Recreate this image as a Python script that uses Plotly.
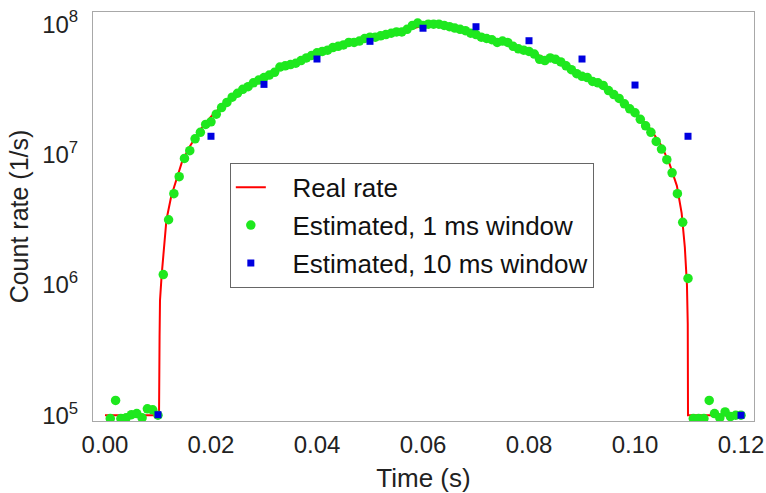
import plotly.graph_objects as go

# Real rate (instantaneous)
real_t = [0.000, 0.0102, 0.0103, 0.01038, 0.0107, 0.0116, 0.0125, 0.0135, 0.0145, 0.016,
          0.018, 0.020, 0.0225, 0.025, 0.0275, 0.030, 0.035, 0.040, 0.045, 0.050,
          0.055, 0.060, 0.065, 0.070, 0.075, 0.080, 0.085, 0.090, 0.095, 0.100,
          0.103, 0.105, 0.1065, 0.1079, 0.1088, 0.1094, 0.1098, 0.10995, 0.1100, 0.1200]
real_rate = [1.0e5, 1.0e5, 3.98e5, 7.59e5, 1.20e6, 3.16e6, 4.79e6, 6.61e6, 8.71e6, 1.15e7,
             1.55e7, 1.95e7, 2.45e7, 2.95e7, 3.47e7, 3.98e7, 5.01e7, 6.03e7, 6.92e7, 7.76e7,
             8.51e7, 9.77e7, 9.33e7, 8.51e7, 7.41e7, 6.17e7, 5.13e7, 4.07e7, 3.09e7, 2.14e7,
             1.55e7, 1.17e7, 8.51e6, 5.75e6, 3.55e6, 1.95e6, 1.00e6, 5.01e5, 1.0e5, 1.0e5]

# Estimated, 1 ms window (t = 0.001 ... 0.120)
est1_t = [round(0.001 * (i + 1), 3) for i in range(120)]
est1_rate = [
    9.44e4, 1.30e5, 9.44e4, 9.55e4, 1.01e5, 1.03e5, 9.55e4, 1.12e5, 1.10e5, 1.00e5,
    1.20e6, 3.16e6, 5.01e6, 6.76e6, 9.33e6, 1.07e7, 1.32e7, 1.48e7, 1.70e7, 1.78e7,
    2.04e7, 2.29e7, 2.51e7, 2.75e7, 2.95e7, 3.16e7, 3.31e7, 3.55e7, 3.72e7, 3.89e7,
    4.07e7, 4.27e7, 4.68e7, 4.79e7, 4.90e7, 5.01e7, 5.25e7, 5.50e7, 5.75e7, 6.03e7,
    6.17e7, 6.31e7, 6.61e7, 6.76e7, 6.92e7, 7.24e7, 7.24e7, 7.41e7, 7.76e7, 7.94e7,
    7.94e7, 8.13e7, 8.32e7, 8.51e7, 8.71e7, 8.71e7, 9.12e7, 9.77e7, 1.02e8, 9.77e7,
    1.00e8, 1.00e8, 1.00e8, 9.77e7, 9.55e7, 9.33e7, 9.12e7, 8.91e7, 8.51e7, 8.32e7,
    7.94e7, 7.76e7, 7.59e7, 7.24e7, 7.41e7, 7.24e7, 6.76e7, 6.46e7, 6.31e7, 6.17e7,
    5.89e7, 5.37e7, 5.25e7, 5.50e7, 5.37e7, 5.13e7, 4.79e7, 4.47e7, 4.17e7, 3.98e7,
    3.89e7, 3.63e7, 3.55e7, 3.39e7, 3.09e7, 2.88e7, 2.69e7, 2.45e7, 2.24e7, 2.09e7,
    1.86e7, 1.66e7, 1.48e7, 1.26e7, 1.10e7, 9.12e6, 7.24e6, 5.01e6, 3.02e6, 1.12e6,
    9.44e4, 9.44e4, 9.44e4, 1.30e5, 1.03e5, 9.55e4, 1.06e5, 9.77e4, 1.00e5, 1.00e5,
]

# Estimated, 10 ms window
est10_t = [0.01, 0.02, 0.03, 0.04, 0.05, 0.06, 0.07, 0.08, 0.09, 0.10, 0.11, 0.12]
est10_rate = [1.01e5, 1.38e7, 3.45e7, 5.40e7, 7.38e7, 9.30e7, 9.55e7, 7.46e7, 5.40e7, 3.41e7, 1.38e7, 1.0e5]

x_tickvals = [0, 0.02, 0.04, 0.06, 0.08, 0.10, 0.12]
x_ticktext = ["0.00", "0.02", "0.04", "0.06", "0.08", "0.10", "0.12"]
y_tickvals = [1e5, 1e6, 1e7, 1e8]
y_ticktext = ["10<sup>5</sup>", "10<sup>6</sup>", "10<sup>7</sup>", "10<sup>8</sup>"]

FONT = "Arial, Liberation Sans, Helvetica, sans-serif"
PAD = "\u00a0\u00a0\u00a0"

fig = go.Figure()
fig.add_trace(go.Scatter(x=real_t, y=real_rate, mode="lines", name=PAD + "Real rate",
                         line=dict(color="#ff0000", width=2), legendgroup="a"))
fig.add_trace(go.Scatter(x=est1_t, y=est1_rate, mode="markers", name=PAD + "Estimated, 1 ms window",
                         marker=dict(color="#1ee81e", size=9.5, symbol="circle"), legendgroup="b"))
fig.add_trace(go.Scatter(x=est10_t, y=est10_rate, mode="markers", name=PAD + "Estimated, 10 ms window",
                         marker=dict(color="#0000e0", size=7, symbol="square"), legendgroup="c"))

fig.update_layout(
    width=766, height=493,
    margin=dict(l=93, r=12, t=12, b=72),
    paper_bgcolor="white", plot_bgcolor="white",
    font=dict(family=FONT, color="#222222", size=24),
    legend=dict(x=0.207, y=0.631, xanchor="left", yanchor="top",
                bordercolor="#666666", borderwidth=1, bgcolor="white",
                font=dict(size=26, family=FONT, color="#111111"),
                itemwidth=30, tracegroupgap=1, traceorder="grouped"),
    xaxis=dict(range=[-0.00226, 0.12245], tickvals=x_tickvals, ticktext=x_ticktext,
               showline=True, mirror=True, linecolor="#a8a8a8", linewidth=1,
               showgrid=False, zeroline=False, ticks="", ticklabelstandoff=2,
               automargin=False,
               title=dict(text="Time (s)", font=dict(size=26, family=FONT), standoff=14),
               tickfont=dict(size=24, family=FONT)),
    yaxis=dict(type="log", range=[4.956, 8.093], tickvals=y_tickvals, ticktext=y_ticktext,
               showline=True, mirror=True, linecolor="#a8a8a8", linewidth=1,
               showgrid=False, zeroline=False, ticks="", ticklabelstandoff=9,
               automargin=False,
               title=dict(text="Count rate (1/s)", font=dict(size=25, family=FONT), standoff=6),
               tickfont=dict(size=24, family=FONT)),
)

fig.write_html("out.html")
